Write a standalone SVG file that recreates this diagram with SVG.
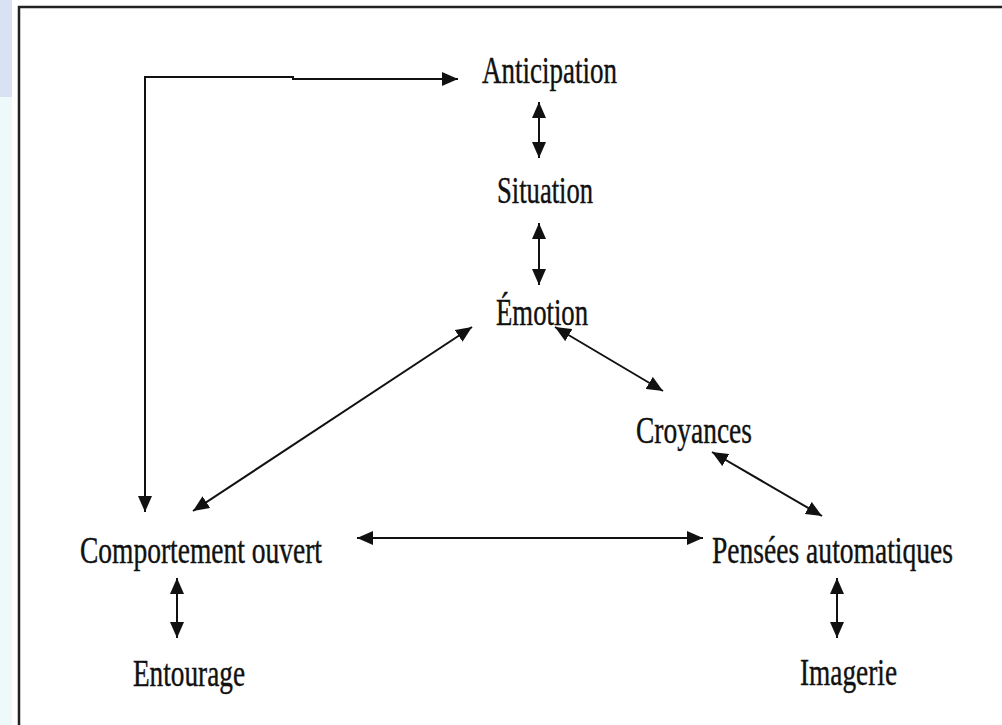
<svg xmlns="http://www.w3.org/2000/svg" width="1002" height="725" viewBox="0 0 1002 725">
<style>
.lbl{font-family:"Liberation Serif","Times New Roman",serif;font-size:37px;fill:#111;stroke:#111;stroke-width:0.4}
.con{fill:none;stroke:#111;stroke-width:2;marker-start:url(#ah);marker-end:url(#ah)}
</style>
<defs>
<marker id="ah" markerUnits="userSpaceOnUse" markerWidth="16" markerHeight="14" refX="16" refY="7" orient="auto-start-reverse" viewBox="0 0 16 14">
<path d="M0,0 L16,7 L0,14 z" fill="#111"/>
</marker>
</defs>
<rect x="0" y="0" width="1002" height="725" fill="#ffffff"/>
<rect x="0" y="0" width="12" height="725" fill="#eef9f9"/>
<rect x="0" y="0" width="12" height="97" fill="#d8e2f2"/>
<path d="M19,725 V7 H1002" fill="none" stroke="#222" stroke-width="2.5"/>
<g id="connectors">
<polyline class="con" points="458,79 293,79 293,77 145,77 145,512"/>
<line class="con" x1="539" y1="102" x2="539" y2="158"/>
<line class="con" x1="539" y1="223" x2="539" y2="285"/>
<line class="con" x1="472" y1="327" x2="193" y2="511"/>
<line class="con" x1="555" y1="327" x2="663" y2="391"/>
<line class="con" x1="712" y1="452" x2="822" y2="516"/>
<line class="con" x1="357" y1="538" x2="703" y2="538"/>
<line class="con" x1="177" y1="578" x2="177" y2="638"/>
<line class="con" x1="837" y1="578" x2="837" y2="638"/>
</g>
<g id="anticipation"><text class="lbl" transform="scale(0.77 1)" x="626" y="83" textLength="175.3" lengthAdjust="spacingAndGlyphs">Anticipation</text></g>
<g id="situation"><text class="lbl" transform="scale(0.77 1)" x="645.5" y="203" textLength="124.7" lengthAdjust="spacingAndGlyphs">Situation</text></g>
<g id="emotion"><text class="lbl" transform="scale(0.77 1)" x="644.2" y="325" textLength="119.5" lengthAdjust="spacingAndGlyphs">Émotion</text></g>
<g id="croyances"><text class="lbl" transform="scale(0.77 1)" x="826" y="443" textLength="150.6" lengthAdjust="spacingAndGlyphs">Croyances</text></g>
<g id="comportement"><text class="lbl" transform="scale(0.77 1)" x="103.9" y="563" textLength="314.3" lengthAdjust="spacingAndGlyphs">Comportement ouvert</text></g>
<g id="pensees"><text class="lbl" transform="scale(0.77 1)" x="924.7" y="563" textLength="313" lengthAdjust="spacingAndGlyphs">Pensées automatiques</text></g>
<g id="entourage"><text class="lbl" transform="scale(0.77 1)" x="172.7" y="686" textLength="145.5" lengthAdjust="spacingAndGlyphs">Entourage</text></g>
<g id="imagerie"><text class="lbl" transform="scale(0.77 1)" x="1039" y="685" textLength="126" lengthAdjust="spacingAndGlyphs">Imagerie</text></g>
</svg>
